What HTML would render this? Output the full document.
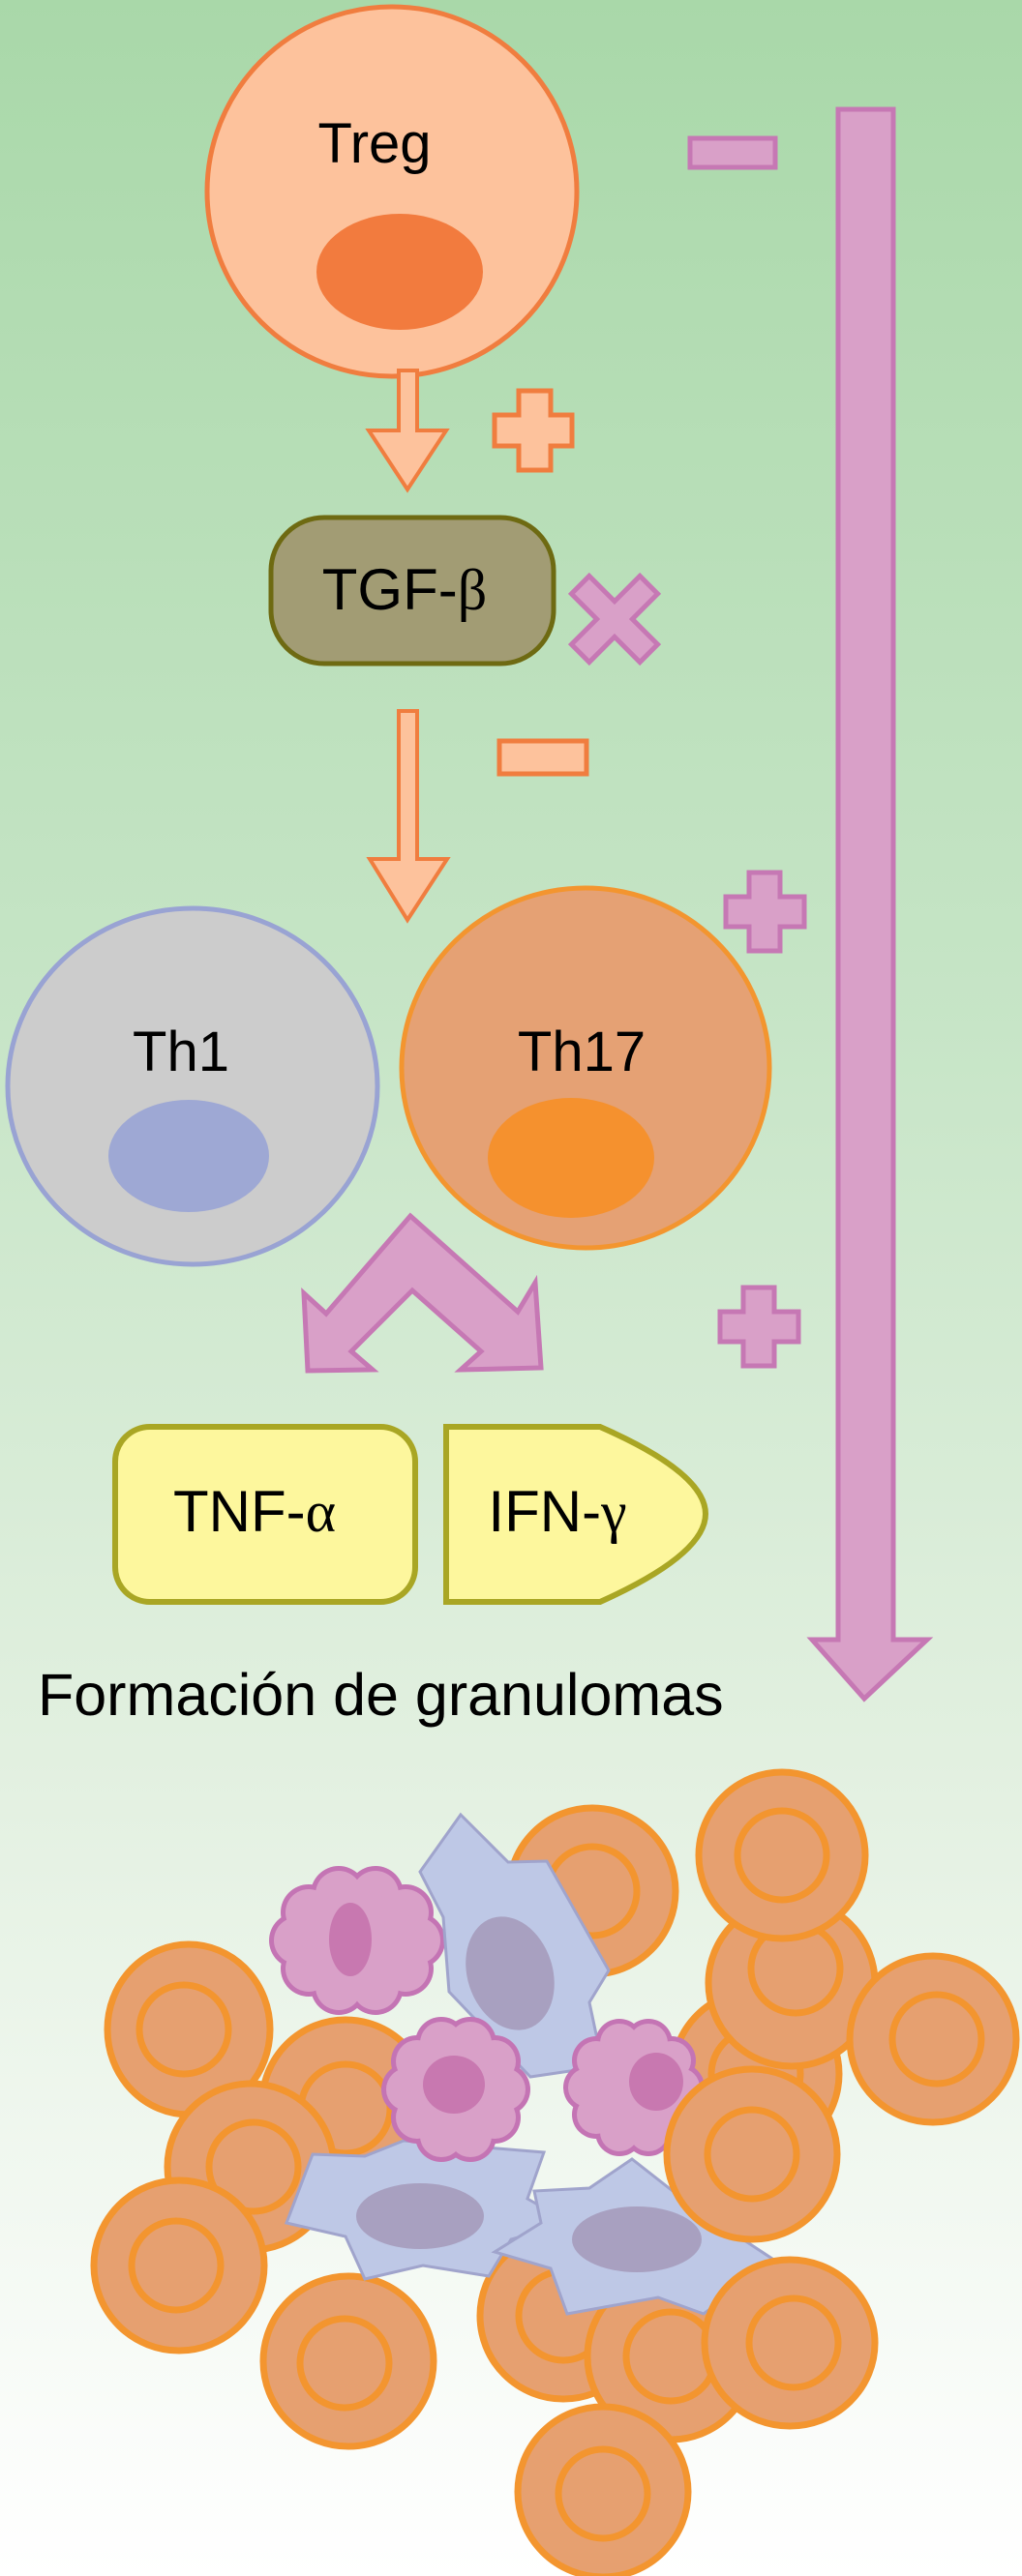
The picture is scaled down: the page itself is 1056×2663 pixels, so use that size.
<!DOCTYPE html>
<html><head><meta charset="utf-8"><style>
html,body{margin:0;padding:0}
body{width:1056px;height:2663px;overflow:hidden}
svg{display:block}
text{font-family:"Liberation Sans",sans-serif;fill:#000}
</style></head><body>
<svg width="1056" height="2663" viewBox="0 0 1056 2663" xmlns="http://www.w3.org/2000/svg">
<defs>
<linearGradient id="bg" x1="0" y1="0" x2="0" y2="1">
<stop offset="0" stop-color="#a9d8a9"/>
<stop offset="0.4" stop-color="#c7e5c7"/>
<stop offset="0.68" stop-color="#e2f0e0"/>
<stop offset="1" stop-color="#ffffff"/>
</linearGradient>
</defs>
<rect width="1056" height="2663" fill="url(#bg)"/>

<circle cx="405" cy="198" r="191" fill="#fdc29c" stroke="#f07d3f" stroke-width="5"/>
<ellipse cx="413" cy="281" rx="86" ry="60" fill="#f27b3e"/>
<text x="387" y="168" font-size="58" text-anchor="middle">Treg</text>

<rect x="713" y="143" width="88" height="30" fill="#d9a0c8" stroke="#c678b4" stroke-width="5"/>
<polygon points="866,113 923,113 923,1695 958,1695 893,1756 839,1695 866,1695" fill="#d9a0c8" stroke="#c678b4" stroke-width="5"/>

<polygon points="412,383 431,383 431,445 461,445 421,506 381,445 412,445" fill="#fdc29c" stroke="#f07d3f" stroke-width="4"/>
<polygon points="536,404 569,404 569,429 591,429 591,461 569,461 569,486 536,486 536,461 511,461 511,429 536,429" fill="#fdc29c" stroke="#f07d3f" stroke-width="5"/>

<rect x="280" y="535" width="292" height="151" rx="55" fill="#a29c74" stroke="#6e6a12" stroke-width="5"/>
<text x="418" y="630" font-size="60" text-anchor="middle">TGF-<tspan font-family="Liberation Serif,serif">β</tspan></text>

<g transform="translate(635,640) rotate(45)">
<polygon points="-13,-50 13,-50 13,-13 50,-13 50,13 13,13 13,50 -13,50 -13,13 -50,13 -50,-13 -13,-13" fill="#d9a0c8" stroke="#c678b4" stroke-width="5"/>
</g>

<polygon points="412,735 431,735 431,888 462,888 421,951 382,888 412,888" fill="#fdc29c" stroke="#f07d3f" stroke-width="4"/>
<rect x="516" y="766" width="90" height="34" fill="#fdc29c" stroke="#f07d3f" stroke-width="5"/>
<polygon points="774,902 806,902 806,927 831,927 831,958 806,958 806,983 774,983 774,958 750,958 750,927 774,927" fill="#d9a0c8" stroke="#c678b4" stroke-width="5"/>

<ellipse cx="199" cy="1123" rx="191" ry="184" fill="#cccccc" stroke="#99a3d3" stroke-width="5"/>
<ellipse cx="195" cy="1195" rx="83" ry="58" fill="#9ea8d4"/>
<text x="187" y="1107" font-size="58" text-anchor="middle">Th1</text>
<ellipse cx="605" cy="1104" rx="190" ry="186" fill="#e5a174" stroke="#f3952f" stroke-width="5"/>
<ellipse cx="590" cy="1197" rx="86" ry="62" fill="#f5912e"/>
<text x="601" y="1107" font-size="58" text-anchor="middle">Th17</text>

<polygon points="424,1257 535,1356 553,1326 559,1414 476,1416 497,1397 426,1334 363,1397 385,1416 318,1417 314,1337 337,1358" fill="#d9a0c8" stroke="#c678b4" stroke-width="5"/>
<polygon points="768,1331 800,1331 800,1356 825,1356 825,1387 800,1387 800,1412 768,1412 768,1387 744,1387 744,1356 768,1356" fill="#d9a0c8" stroke="#c678b4" stroke-width="5"/>

<rect x="119" y="1475" width="310" height="181" rx="36" fill="#fdf79d" stroke="#a9a624" stroke-width="6"/>
<text x="263" y="1583" font-size="60" text-anchor="middle">TNF-<tspan font-family="Liberation Serif,serif">α</tspan></text>
<path d="M461,1475 L620,1475 C700,1510 729,1540 729,1565 C729,1590 700,1620 620,1656 L461,1656 Z" fill="#fdf79d" stroke="#a9a624" stroke-width="6"/>
<text x="576" y="1583" font-size="60" text-anchor="middle">IFN-<tspan font-family="Liberation Serif,serif">γ</tspan></text>

<text x="39" y="1773" font-size="61">Formación de granulomas</text>

<g fill="#e6a070" stroke="#f3952f" stroke-width="7">
<ellipse cx="612" cy="1955" rx="86" ry="86"/><circle cx="612" cy="1955" r="46" fill="none"/>
<ellipse cx="781" cy="2144" rx="86" ry="86"/><circle cx="781" cy="2144" r="46" fill="none"/>
<ellipse cx="818" cy="2050" rx="86" ry="86"/><circle cx="822" cy="2035" r="46" fill="none"/>
<ellipse cx="808" cy="1918" rx="86" ry="86"/><circle cx="808" cy="1918" r="46" fill="none"/>
<ellipse cx="964" cy="2108" rx="86" ry="86"/><circle cx="968" cy="2108" r="46" fill="none"/>
<ellipse cx="582" cy="2394" rx="86" ry="86"/><circle cx="582" cy="2394" r="46" fill="none"/>
<ellipse cx="693" cy="2436" rx="86" ry="86"/><circle cx="693" cy="2436" r="46" fill="none"/>
<ellipse cx="195" cy="2098" rx="84" ry="88"/><circle cx="190" cy="2098" r="46" fill="none"/>
<ellipse cx="357" cy="2174" rx="86" ry="86"/><circle cx="357" cy="2180" r="46" fill="none"/>
<ellipse cx="259" cy="2240" rx="86" ry="86"/><circle cx="262" cy="2240" r="46" fill="none"/>
<ellipse cx="185" cy="2342" rx="88" ry="88"/><circle cx="182" cy="2342" r="46" fill="none"/>
<ellipse cx="360" cy="2441" rx="88" ry="88"/><circle cx="356" cy="2443" r="46" fill="none"/>
<ellipse cx="623" cy="2576" rx="88" ry="88"/><circle cx="623" cy="2578" r="46" fill="none"/>
</g>

<g>
<g fill="#c474b4"><circle cx="431" cy="2006" r="29"/><circle cx="419" cy="2035" r="29"/><circle cx="388" cy="2054" r="29"/><circle cx="350" cy="2054" r="29"/><circle cx="319" cy="2035" r="29"/><circle cx="307" cy="2006" r="29"/><circle cx="319" cy="1977" r="29"/><circle cx="350" cy="1958" r="29"/><circle cx="388" cy="1958" r="29"/><circle cx="419" cy="1977" r="29"/></g>
<g fill="#d9a0c8"><circle cx="431" cy="2006" r="24"/><circle cx="419" cy="2035" r="24"/><circle cx="388" cy="2054" r="24"/><circle cx="350" cy="2054" r="24"/><circle cx="319" cy="2035" r="24"/><circle cx="307" cy="2006" r="24"/><circle cx="319" cy="1977" r="24"/><circle cx="350" cy="1958" r="24"/><circle cx="388" cy="1958" r="24"/><circle cx="419" cy="1977" r="24"/><ellipse cx="369" cy="2006" rx="62" ry="50"/></g>
<ellipse cx="362" cy="2005" rx="22" ry="38" fill="#c878b0"/>
</g>

<polygon points="476,1876 525,1925 565,1924 629,2037 609,2070 623,2136 548,2147 464,2059 458,1982 434,1935" fill="#bec8e6" stroke="#a0a4cc" stroke-width="3"/>
<ellipse cx="527" cy="2040" rx="44" ry="60" transform="rotate(-18 527 2040)" fill="#a8a0c0"/>

<polygon points="296,2298 323,2227 377,2229 417,2213 562,2225 545,2273 589,2298 528,2315 505,2353 437,2342 377,2356 357,2312" fill="#bec8e6" stroke="#a0a4cc" stroke-width="3"/>
<ellipse cx="434" cy="2291" rx="66" ry="34" fill="#a8a0c0"/>

<g>
<g fill="#c474b4"><circle cx="521" cy="2160" r="27"/><circle cx="511" cy="2189" r="27"/><circle cx="486" cy="2208" r="27"/><circle cx="456" cy="2208" r="27"/><circle cx="431" cy="2189" r="27"/><circle cx="421" cy="2160" r="27"/><circle cx="431" cy="2131" r="27"/><circle cx="456" cy="2112" r="27"/><circle cx="486" cy="2112" r="27"/><circle cx="511" cy="2131" r="27"/></g>
<g fill="#d9a0c8"><circle cx="521" cy="2160" r="22"/><circle cx="511" cy="2189" r="22"/><circle cx="486" cy="2208" r="22"/><circle cx="456" cy="2208" r="22"/><circle cx="431" cy="2189" r="22"/><circle cx="421" cy="2160" r="22"/><circle cx="431" cy="2131" r="22"/><circle cx="456" cy="2112" r="22"/><circle cx="486" cy="2112" r="22"/><circle cx="511" cy="2131" r="22"/><circle cx="471" cy="2160" r="50"/></g>
<ellipse cx="469" cy="2155" rx="32" ry="30" fill="#c878b0"/>
</g>

<polygon points="511,2328 559,2298 552,2265 609,2262 653,2232 713,2279 801,2337 727,2392 680,2375 586,2392 569,2345" fill="#bec8e6" stroke="#a0a4cc" stroke-width="3"/>
<ellipse cx="658" cy="2315" rx="67" ry="34" fill="#a8a0c0"/>

<g>
<g fill="#c474b4"><circle cx="703" cy="2158" r="25"/><circle cx="694" cy="2186" r="25"/><circle cx="670" cy="2204" r="25"/><circle cx="640" cy="2204" r="25"/><circle cx="616" cy="2186" r="25"/><circle cx="607" cy="2158" r="25"/><circle cx="616" cy="2130" r="25"/><circle cx="640" cy="2112" r="25"/><circle cx="670" cy="2112" r="25"/><circle cx="694" cy="2130" r="25"/></g>
<g fill="#d9a0c8"><circle cx="703" cy="2158" r="20"/><circle cx="694" cy="2186" r="20"/><circle cx="670" cy="2204" r="20"/><circle cx="640" cy="2204" r="20"/><circle cx="616" cy="2186" r="20"/><circle cx="607" cy="2158" r="20"/><circle cx="616" cy="2130" r="20"/><circle cx="640" cy="2112" r="20"/><circle cx="670" cy="2112" r="20"/><circle cx="694" cy="2130" r="20"/><circle cx="655" cy="2158" r="48"/></g>
<ellipse cx="678" cy="2152" rx="28" ry="30" fill="#c878b0"/>
</g>

<g fill="#e6a070" stroke="#f3952f" stroke-width="7">
<ellipse cx="777" cy="2227" rx="88" ry="88"/><circle cx="777" cy="2227" r="46" fill="none"/>
<ellipse cx="816" cy="2422" rx="88" ry="86"/><circle cx="820" cy="2422" r="46" fill="none"/>
</g>
</svg>
</body></html>
